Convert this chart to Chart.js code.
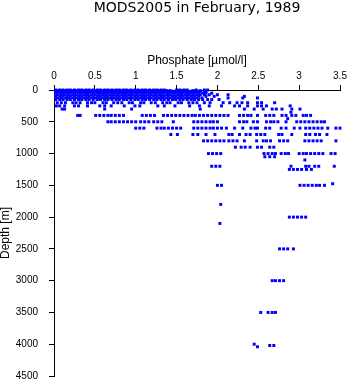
<!DOCTYPE html>
<html>
<head>
<meta charset="utf-8">
<script src="https://cdn.jsdelivr.net/npm/chart.js@4"></script>
<style>
  html, body { margin: 0; padding: 0; background: #fff; }
  #wrap { width: 350px; height: 384px; }
</style>
</head>
<body>
<div id="wrap"><canvas id="profile" width="350" height="384"></canvas></div>
<script>
// standard depth levels [m]
const depths = [0, 10, 20, 30, 50, 75, 100, 125, 150, 200, 250, 300, 350, 400, 450, 500,
  600, 700, 800, 900, 1000, 1050, 1100, 1200, 1250, 1475, 1500, 1800, 2000, 2100,
  2500, 3000, 3500, 4000, 4020, 4040];

// phosphate [umol/l] observed at each depth level (same order as depths)
const phosphate = [
  [0.02,0.07,0.11,0.16,0.2,0.25,0.3,0.34,0.39,0.43,0.48,0.53,0.57,0.62,0.66,0.71,0.76,0.8,0.85,0.89,0.94,0.99,1.03,1.08,1.12,1.17,1.22,1.26,1.31,1.35,1.5,1.54,1.59,1.63,1.74,1.84,1.88],
  [0.04,0.09,0.14,0.18,0.23,0.27,0.32,0.37,0.41,0.46,0.5,0.55,0.6,0.64,0.69,0.73,0.78,0.83,0.87,0.92,0.96,1.01,1.06,1.1,1.15,1.19,1.24,1.29,1.33,1.38,1.42,1.52,1.56,1.61,1.7,1.79],
  [0.02,0.06,0.11,0.16,0.2,0.25,0.29,0.34,0.39,0.44,0.48,0.53,0.57,0.62,0.67,0.71,0.76,0.8,0.85,0.9,0.94,0.99,1.03,1.08,1.12,1.17,1.21,1.26,1.31,1.35,1.4,1.45,1.49,1.54,1.58,1.63,1.68,1.72,1.77,1.86],
  [0.04,0.09,0.13,0.18,0.23,0.27,0.32,0.36,0.41,0.46,0.5,0.55,0.59,0.64,0.69,0.73,0.78,0.82,0.87,0.92,0.96,1.01,1.05,1.1,1.15,1.19,1.24,1.28,1.33,1.38,1.42,1.47,1.51,1.56,1.61,1.65,1.7,1.74,1.79,1.84],
  [0.02,0.07,0.11,0.16,0.2,0.25,0.3,0.34,0.39,0.43,0.48,0.53,0.57,0.62,0.66,0.71,0.76,0.8,0.85,0.89,0.94,0.99,1.03,1.08,1.12,1.17,1.22,1.26,1.31,1.35,1.4,1.45,1.49,1.54,1.58,1.63,1.68,1.72,1.77,1.82,1.86,1.93],
  [0.04,0.09,0.13,0.18,0.23,0.27,0.32,0.37,0.41,0.46,0.5,0.55,0.6,0.64,0.69,0.73,0.78,0.83,0.87,0.92,0.96,1.01,1.06,1.1,1.15,1.19,1.24,1.29,1.33,1.38,1.42,1.47,1.52,1.56,1.61,1.65,1.7,1.75,1.79,1.84,1.9,2.0,2.13],
  [0.02,0.07,0.11,0.16,0.2,0.25,0.3,0.34,0.39,0.43,0.48,0.53,0.57,0.62,0.66,0.71,0.76,0.8,0.85,0.89,0.94,0.99,1.03,1.08,1.12,1.17,1.22,1.26,1.31,1.35,1.4,1.45,1.49,1.54,1.58,1.63,1.68,1.72,1.77,1.86,1.96,2.33],
  [0.04,0.09,0.14,0.18,0.23,0.27,0.32,0.37,0.41,0.46,0.5,0.55,0.6,0.64,0.69,0.73,0.78,0.83,0.87,0.92,0.96,1.01,1.06,1.1,1.15,1.19,1.24,1.29,1.33,1.38,1.42,1.47,1.52,1.56,1.61,1.65,1.7,1.75,1.81,2.13,2.31,2.49],
  [0.02,0.07,0.11,0.16,0.2,0.25,0.3,0.34,0.39,0.43,0.48,0.53,0.57,0.62,0.66,0.71,0.76,0.8,0.85,0.89,0.94,0.99,1.03,1.08,1.12,1.17,1.22,1.26,1.31,1.35,1.4,1.45,1.49,1.54,1.58,1.63,1.68,1.72,1.77,1.82,1.88,1.93,2.02],
  [0.04,0.09,0.14,0.23,0.27,0.32,0.41,0.46,0.5,0.6,0.64,0.73,0.78,0.83,0.92,0.96,1.06,1.1,1.19,1.24,1.33,1.38,1.42,1.52,1.56,1.65,1.7,1.75,1.84,1.91,2.07,2.15,2.24,2.3,2.37,2.49,2.54,2.7],
  [0.03,0.07,0.13,0.25,0.3,0.41,0.56,0.62,0.7,0.86,0.99,1.05,1.27,1.35,1.48,1.66,1.78,1.9,2.05,2.21,2.27,2.37,2.49,2.54,2.6,2.89],
  [0.1,0.13,0.62,0.95,1.79,2.33,2.45,2.56,2.67,2.72,2.79,2.91,3.01],
  [2.9],
  [0.29,0.32,0.51,0.56,0.61,0.66,0.7,0.75,0.8,0.85,1.08,1.13,1.18,1.23,1.34,1.39,1.44,1.49,1.54,1.59,1.64,1.69,1.73,1.78,1.83,1.88,1.93,1.98,2.03,2.08,2.13,2.27,2.32,2.37,2.41,2.49,2.59,2.64,2.69,2.79,2.84,2.91,2.96,3.05,3.09,3.14],
  [2.86],
  [0.66,0.7,0.75,0.8,0.85,0.9,0.95,1.0,1.06,1.11,1.16,1.22,1.27,1.32,1.46,1.71,1.76,1.81,1.86,1.91,1.95,2.0,2.27,2.32,2.36,2.44,2.49,2.6,2.65,2.69,2.74,2.84,2.97,3.02,3.07,3.12,3.17,3.22,3.27,3.31],
  [1.0,1.05,1.1,1.26,1.31,1.35,1.4,1.45,1.5,1.55,1.71,1.76,1.81,1.86,1.91,1.95,2.0,2.05,2.11,2.21,2.31,2.41,2.46,2.49,2.59,2.64,2.78,2.84,2.94,3.01,3.08,3.13,3.18,3.23,3.28,3.35,3.45,3.5],
  [1.43,1.51,1.7,1.76,1.86,1.97,2.14,2.18,2.27,2.35,2.4,2.48,2.53,2.58,2.75,2.79,2.91,3.08,3.13,3.2,3.25,3.34],
  [1.83,1.88,1.93,1.98,2.03,2.08,2.14,2.19,2.24,2.33,2.48,2.56,2.6,2.65,2.76,2.81,2.86,3.07,3.12,3.17,3.22,3.27,3.45],
  [2.22,2.29,2.34,2.4,2.49,2.54,2.64,2.69],
  [1.89,1.94,1.99,2.04,2.57,2.62,2.67,2.71,2.78,2.83,2.87,3.0,3.05,3.09,3.14,3.19,3.24,3.29,3.39,3.44],
  [2.58,2.64,2.7],
  [3.07],
  [1.93,1.98,2.03,2.9,3.08,3.12,3.19,3.24,3.43],
  [2.88,2.93,2.98,3.03,3.09,3.15],
  [3.41],
  [2.0,2.05,3.01,3.06,3.11,3.16,3.21,3.25,3.31],
  [2.04],
  [2.88,2.93,2.98,3.03,3.08],
  [2.03],
  [2.76,2.81,2.86,2.93],
  [2.67,2.71,2.76,2.81],
  [2.53,2.62,2.67,2.71],
  [2.45],
  [2.64,2.69],
  [2.49]
];

const xTicks = [0, 0.5, 1, 1.5, 2, 2.5, 3, 3.5];
const yTicks = [0, 500, 1000, 1500, 2000, 2500, 3000, 3500, 4000, 4500];

const points = [];
depths.forEach((d, i) => {
  phosphate[i].forEach(p => points.push({ x: p, y: d }));
});

const axisFont = { family: 'Liberation Sans', size: 10 };

new Chart(document.getElementById('profile'), {
  type: 'scatter',
  data: {
    datasets: [{
      data: points,
      pointStyle: 'rect',
      pointRadius: 2.1,
      pointBorderWidth: 0,
      backgroundColor: '#0000ff',
      borderColor: '#0000ff'
    }]
  },
  options: {
    responsive: false,
    animation: false,
    clip: false,
    layout: { padding: { left: 0, right: 10, top: 0, bottom: 8 } },
    plugins: {
      legend: { display: false },
      tooltip: { enabled: false },
      title: {
        display: true,
        fullSize: false,   // center over the plot area, not the canvas
        text: 'MODS2005 in February, 1989',
        color: '#000',
        font: { family: 'DejaVu Sans', size: 14, weight: 'normal', lineHeight: 1.2 },
        padding: { top: 0, bottom: 0 }
      }
    },
    scales: {
      x: {
        type: 'linear',
        position: 'top',
        min: 0,
        max: 3.5,
        afterBuildTicks: s => { s.ticks = xTicks.map(v => ({ value: v })); },
        afterFit: s => { s.height = 73.2; },
        grid: { drawOnChartArea: false, drawTicks: true, tickLength: 5, color: '#000', lineWidth: 1 },
        border: { display: true, color: '#000', width: 1 },
        ticks: { color: '#000', padding: 3, maxRotation: 0, font: axisFont, callback: v => String(v) },
        title: {
          display: true,
          text: 'Phosphate [µmol/l]',
          color: '#000',
          font: { family: 'Liberation Sans', size: 12 },
          padding: { top: 37, bottom: 0 }
        }
      },
      y: {
        type: 'linear',
        reverse: true,
        min: 0,
        max: 4500,
        afterBuildTicks: s => { s.ticks = yTicks.map(v => ({ value: v })); },
        // fixed axis width; label overhang is handled by the layout padding
        afterFit: s => { s.width = 54; s.paddingTop = 0; s.paddingBottom = 0; },
        grid: { drawOnChartArea: false, drawTicks: true, tickLength: 5, color: '#000', lineWidth: 1 },
        border: { display: true, color: '#000', width: 1 },
        ticks: { color: '#000', padding: 11, font: axisFont, callback: v => String(v) },
        title: {
          display: true,
          text: 'Depth [m]',
          color: '#000',
          font: { family: 'Liberation Sans', size: 12, lineHeight: 1 },
          padding: { top: 0, bottom: 0 }
        }
      }
    }
  }
});
</script>
</body>
</html>
